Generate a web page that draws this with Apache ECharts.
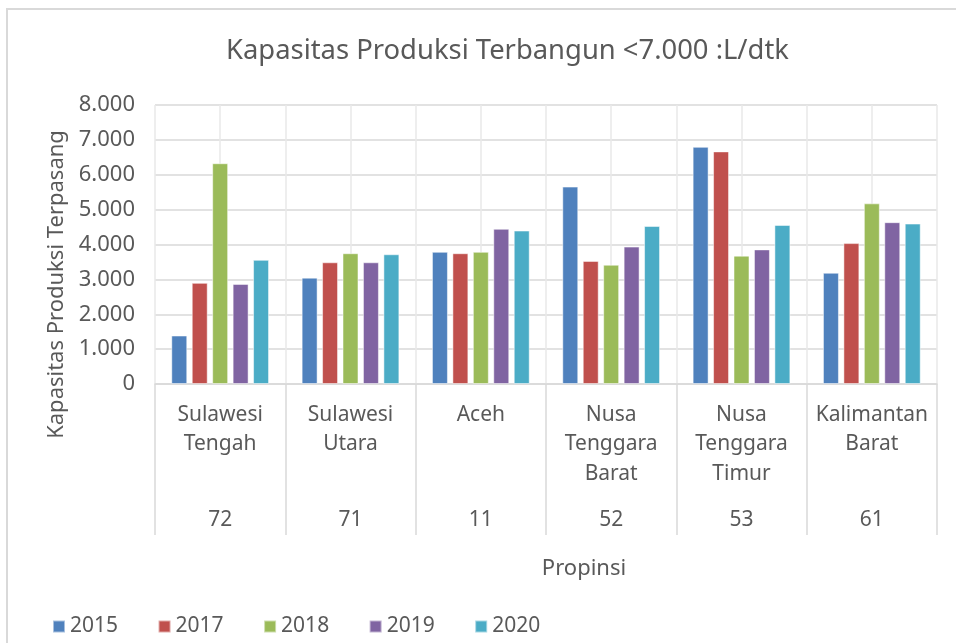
<!DOCTYPE html>
<html>
<head>
<meta charset="utf-8">
<script src="https://cdn.jsdelivr.net/npm/echarts@6/dist/echarts.min.js"></script>
<style>
  html, body { margin: 0; padding: 0; background: #ffffff; }
  #wrap { position: relative; width: 956px; height: 643px; overflow: hidden; }
  #frame { position: absolute; left: 6px; top: 8px; width: 1000px; height: 700px;
           border-left: 2px solid #d9d9d9; border-top: 2px solid #d9d9d9; box-sizing: border-box; }
  #chart { position: absolute; left: 0; top: 0; width: 956px; height: 643px; }
</style>
</head>
<body>
<div id="wrap">
  <div id="frame"></div>
  <div id="chart"></div>
</div>
<script>
const provinces = ['Sulawesi Tengah', 'Sulawesi Utara', 'Aceh', 'Nusa Tenggara Barat', 'Nusa Tenggara Timur', 'Kalimantan Barat'];
const codes = ['72', '71', '11', '52', '53', '61'];
const years = ['2015', '2017', '2018', '2019', '2020'];
const v2015 = [1390, 3050, 3790, 5660, 6800, 3190];
const v2017 = [2900, 3490, 3750, 3530, 6670, 4040];
const v2018 = [6330, 3750, 3790, 3420, 3680, 5180];
const v2019 = [2870, 3490, 4450, 3940, 3860, 4640];
const v2020 = [3560, 3720, 4400, 4530, 4560, 4600];
const yTicks = [0, 1000, 2000, 3000, 4000, 5000, 6000, 7000, 8000];

const seriesValues = [v2015, v2017, v2018, v2019, v2020];
const colors = ['#4F81BD', '#C0504D', '#9BBB59', '#8064A2', '#4BACC6'];
const textColor = '#595959';
const font = 'Noto Sans';

const chart = echarts.init(document.getElementById('chart'), null, { renderer: 'canvas' });

const option = {
  animation: false,
  color: colors,
  textStyle: { fontFamily: font, color: textColor },
  title: {
    text: 'Kapasitas Produksi Terbangun <7.000 :L/dtk',
    left: 221,
    top: 33,
    textStyle: { fontFamily: font, fontSize: 27.4, fontWeight: 'normal', color: textColor }
  },
  legend: {
    data: years,
    left: 47,
    top: 611,
    itemWidth: 12,
    itemHeight: 12,
    itemGap: 39.5,
    icon: 'rect',
    textStyle: { fontFamily: font, fontSize: 21, color: textColor }
  },
  grid: { left: 155, right: 19, top: 105, bottom: 259, containLabel: false },
  xAxis: [
    {
      type: 'category',
      data: provinces,
      boundaryGap: true,
      axisLine: { show: true, lineStyle: { color: '#d9d9d9', width: 1.5 } },
      axisTick: { show: true, length: 151, alignWithLabel: false, lineStyle: { color: '#d9d9d9', width: 1.5 } },
      splitLine: { show: false },
      axisLabel: {
        interval: 0,
        margin: 16,
        fontFamily: font,
        fontSize: 21,
        lineHeight: 29.5,
        color: textColor,
        formatter: function (v) { return v.split(' ').join('\n'); }
      },
      name: 'Propinsi',
      nameLocation: 'middle',
      nameGap: 174,
      nameTextStyle: { fontFamily: font, fontSize: 22, color: textColor, padding: [0, 0, 0, 76] }
    },
    {
      type: 'category',
      data: codes,
      position: 'bottom',
      boundaryGap: true,
      axisLine: { show: false },
      axisTick: { show: false },
      splitLine: { show: false },
      axisLabel: {
        interval: 0,
        margin: 122,
        fontFamily: font,
        fontSize: 21,
        lineHeight: 29,
        color: textColor
      }
    },
    {
      type: 'value',
      min: 0,
      max: provinces.length,
      interval: 0.5,
      position: 'bottom',
      axisLine: { show: false },
      axisTick: { show: false },
      axisLabel: { show: false },
      splitLine: { show: true, lineStyle: { color: '#e8e8e8', width: 1.5 } }
    }
  ],
  yAxis: {
    type: 'value',
    min: yTicks[0],
    max: yTicks[yTicks.length - 1],
    interval: yTicks[1] - yTicks[0],
    axisLine: { show: false },
    axisTick: { show: false },
    splitLine: { show: true, lineStyle: { color: '#d9d9d9', width: 1.5 } },
    axisLabel: {
      margin: 20,
      fontFamily: font,
      fontSize: 22,
      color: textColor,
      formatter: function (v) { return v === 0 ? '0' : v.toString().replace(/\B(?=(\d{3})+(?!\d))/g, '.'); }
    },
    name: 'Kapasitas Produksi Terpasang',
    nameLocation: 'middle',
    nameGap: 80,
    nameTextStyle: { fontFamily: font, fontSize: 22, color: textColor, padding: [0, 80, 0, 0] }
  },
  series: years.map(function (y, i) {
    return {
      name: y,
      type: 'bar',
      xAxisIndex: 0,
      yAxisIndex: 0,
      data: seriesValues[i],
      barGap: '28%',
      barCategoryGap: '25%',
      itemStyle: { color: colors[i], borderColor: 'rgba(255,255,255,0.5)', borderWidth: 1 }
    };
  })
};

chart.setOption(option);
</script>
</body>
</html>
